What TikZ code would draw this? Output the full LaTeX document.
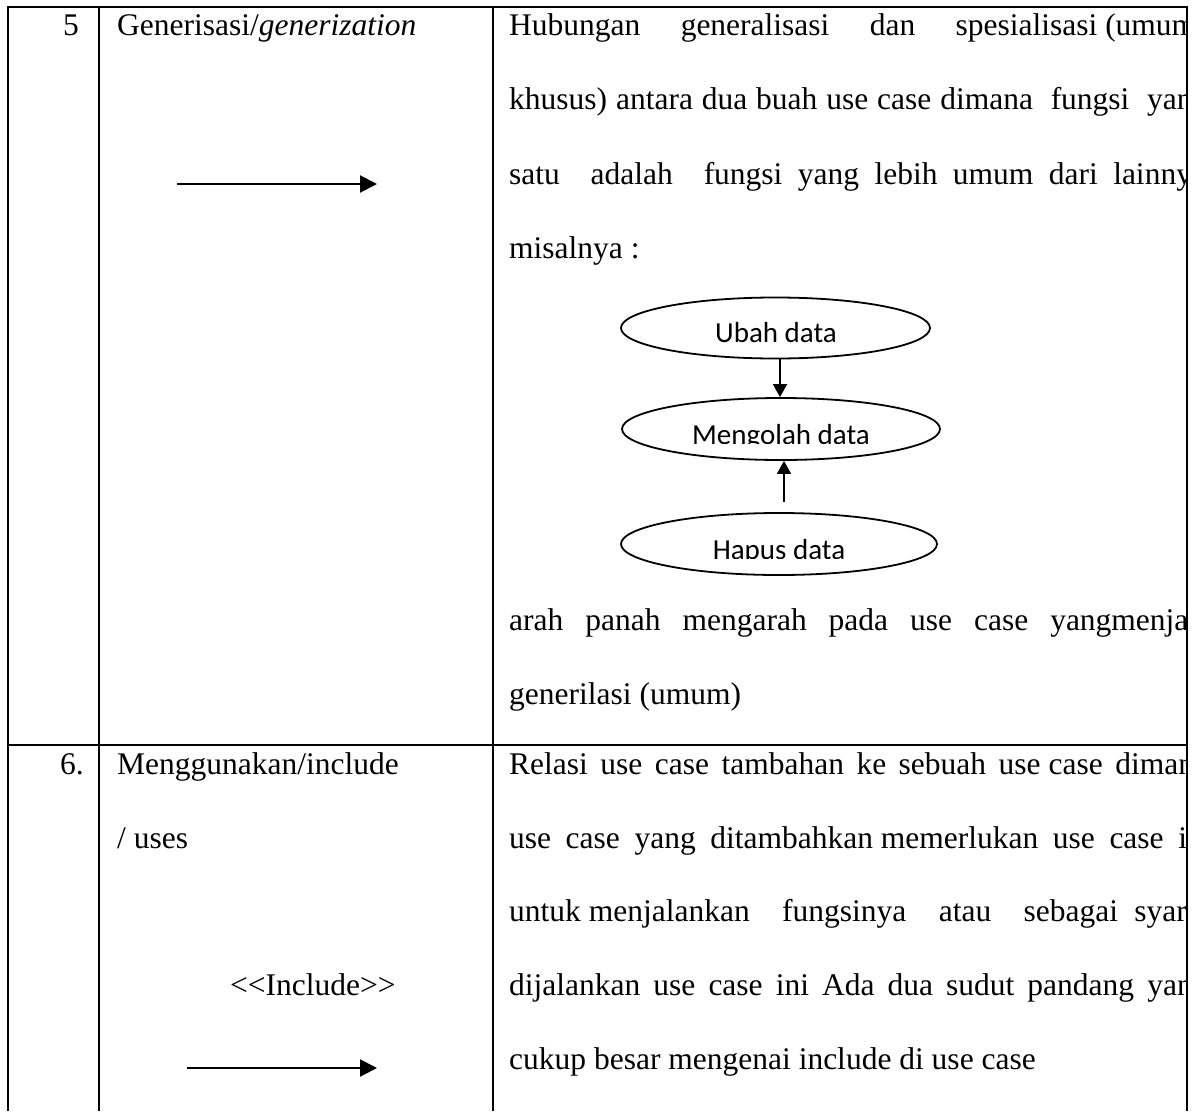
\documentclass[tikz,border=0pt]{standalone}
\usepackage{fontspec}
\setmainfont{Liberation Serif}
\newfontfamily\calib{Carlito}
\usetikzlibrary{arrows.meta,shapes.geometric}
\newcommand\jsk{\hskip 0.25em plus 1fil\relax}
\begin{document}
\begin{tikzpicture}[x=1pt,y=-1pt,
  font=\fontsize{31.5}{37}\selectfont,
  tline/.style={line width=1.8pt},
  body/.style={anchor=base west, inner sep=0pt},
  num/.style={anchor=base east, inner sep=0pt},
  uc/.style={ellipse, draw, line width=1.8pt, inner sep=0pt, minimum height=61pt},
  uctext/.style={anchor=base, inner sep=0pt, font=\calib\fontsize{29}{34}\selectfont},
  genarrow/.style={line width=2pt, -{Triangle[length=17pt,width=17pt]}},
  ucarrow/.style={line width=1.8pt, -{Triangle[length=13pt,width=14pt]}}]
\fill[white] (0,0) rectangle (1196,1111);
\useasboundingbox (0,0) rectangle (1196,1111);
% table
\draw[tline] (8,1111) -- (8,7) -- (1187,7) -- (1187,1111);
\draw[tline] (99,7) -- (99,1111);
\draw[tline] (493,7) -- (493,1111);
\draw[tline] (8,745) -- (1187,745);
% column 1 and 2
\node[num] (n5) at (79,35) {5};
\node[body] (c5) at (117,35) {Generisasi/\textit{generization}};
\coordinate (g1) at (177,184);
\coordinate (g2) at (377,184);
\draw[genarrow] (g1) -- (g2);
\node[num] (n6) at (84,774) {6.};
\node[body] (c6a) at (117,774) {Menggunakan/include};
\node[body] (c6b) at (117,848) {/ uses};
\node[body] (c6c) at (230,995) {<\kern0pt<Include>\kern0pt>};
\coordinate (i1) at (187,1068);
\coordinate (i2) at (377,1068);
\draw[genarrow] (i1) -- (i2);
% column 3 text
\begin{scope}
\clip (494,8) rectangle (1186,1111);
\node[body] (l1) at (509,35) {\hbox to 596pt{Hubungan\jsk generalisasi\jsk dan\jsk spesialisasi \rlap{(umum}}};
\node[body] (l2) at (509,109) {\hbox to 638pt{khusus)\jsk antara\jsk dua\jsk buah\jsk use\jsk case\jsk dimana\jsk\jsk fungsi\jsk\jsk\rlap{yan}}};
\node[body] (l3) at (509,184) {\hbox to 604pt{satu\jsk\jsk adalah\jsk\jsk fungsi\jsk yang\jsk lebih\jsk umum\jsk dari\jsk\rlap{lainny}}};
\node[body] (l4) at (509,258) {misalnya :};
\node[body] (l9) at (509,630) {\hbox to 541pt{arah\jsk panah\jsk mengarah\jsk pada\jsk use\jsk case\jsk\rlap{yangmenja}}};
\node[body] (l10) at (509,704) {generilasi (umum)};
\node[body] (r1) at (509,774) {\hbox to 606pt{Relasi\jsk use\jsk case\jsk tambahan\jsk ke\jsk sebuah\jsk use case\jsk\rlap{diman}}};
\node[body] (r2) at (509,848) {\hbox to 669pt{use\jsk case\jsk yang\jsk ditambahkan memerlukan\jsk use\jsk case\jsk\rlap{i}}};
\node[body] (r3) at (509,921) {\hbox to 625pt{untuk menjalankan\jsk\jsk fungsinya\jsk\jsk atau\jsk\jsk sebagai\jsk\rlap{syar}}};
\node[body] (r4) at (509,995) {\hbox to 638pt{dijalankan\jsk use\jsk case\jsk ini\jsk Ada\jsk dua\jsk sudut\jsk pandang\jsk\rlap{yan}}};
\node[body] (r5) at (509,1069) {cukup besar mengenai include di use case};
\end{scope}
% use case example
\node[uc, minimum width=309pt] (ubah) at (775.5,328) {};
\node[uc, minimum width=318pt, minimum height=62pt] (meng) at (781,429) {};
\node[uc, minimum width=316pt, minimum height=62pt] (hapus) at (779,544) {};
\node[uctext] (tubah) at (776,342) {Ubah data};
\begin{scope}
\clip (600,380) rectangle (960,443.5);
\node[uctext] (tmeng) at (781,444) {Mengolah data};
\end{scope}
\begin{scope}
\clip (600,520) rectangle (960,558);
\node[uctext] (thapus) at (779,559) {Hapus data};
\end{scope}
\draw[ucarrow] ([xshift=4.5pt]ubah.south) -- ([xshift=-1pt]meng.north);
\draw[ucarrow, shorten <=10pt] ([xshift=5pt]hapus.north) -- ([xshift=3pt]meng.south);
\end{tikzpicture}
\end{document}
